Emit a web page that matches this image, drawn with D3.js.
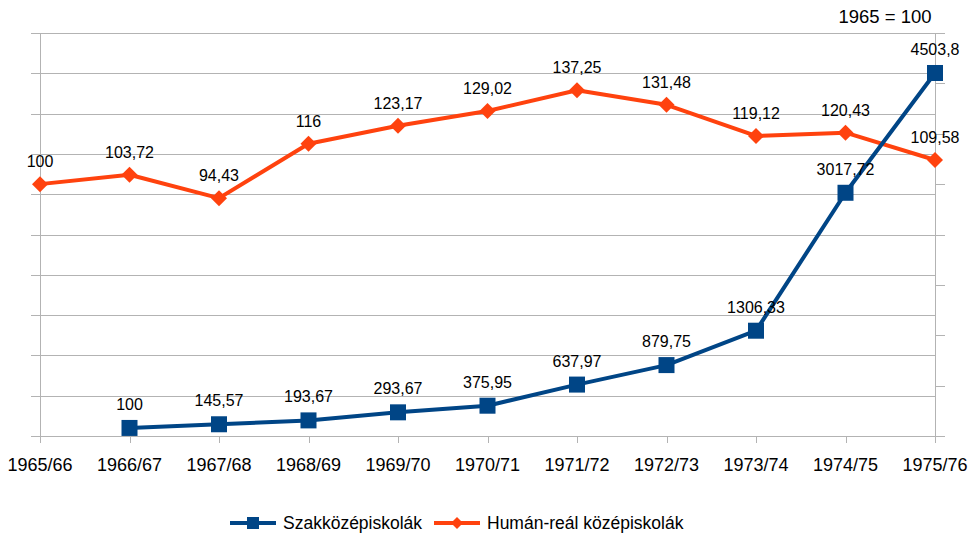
<!DOCTYPE html>
<html>
<head>
<meta charset="utf-8">
<script src="https://cdn.jsdelivr.net/npm/d3@7"></script>
<style>
    body { margin: 0; background: #fff; }
    svg { font-family: 'Liberation Sans', Arial, sans-serif; }
</style>
</head>
<body>
<svg id="chart" width="972" height="544"></svg>
<script>
// categories and series values
const years = ['1965/66', '1966/67', '1967/68', '1968/69', '1969/70', '1970/71',
    '1971/72', '1972/73', '1973/74', '1974/75', '1975/76']
const szakValues = [null, 100, 145.57, 193.67, 293.67, 375.95, 637.97, 879.75, 1306.33, 3017.72, 4503.8]
const szakLabels = [null, '100', '145,57', '193,67', '293,67', '375,95', '637,97', '879,75', '1306,33', '3017,72', '4503,8']
const humanValues = [100, 103.72, 94.43, 116, 123.17, 129.02, 137.25, 131.48, 119.12, 120.43, 109.58]
const humanLabels = ['100', '103,72', '94,43', '116', '123,17', '129,02', '137,25', '131,48', '119,12', '120,43', '109,58']
const leftTicks = [0, 16, 32, 48, 64, 80, 96, 112, 128, 144, 160]
const rightTicks = [0, 625, 1250, 1875, 2500, 3125, 3750, 4375, 5000]

const colorSzak = '#004586'
const colorHuman = '#ff420e'
const colorGrid = '#b3b3b3'

const svg = d3.select('#chart')
const plot = { left: 40, right: 935, top: 33, bottom: 436 }

const x = d3.scalePoint().domain(years).range([plot.left, plot.right])
const yLeft = d3.scaleLinear().domain([0, 160]).range([plot.bottom, plot.top])
const yRight = d3.scaleLinear().domain([0, 5000]).range([plot.bottom, plot.top])

// gridlines + left ticks
svg.append('g')
    .selectAll('line')
    .data(leftTicks)
    .enter()
    .append('line')
    .attr('x1', plot.left - 9)
    .attr('x2', plot.right)
    .attr('y1', (d) => Math.round(yLeft(d)) + 0.5)
    .attr('y2', (d) => Math.round(yLeft(d)) + 0.5)
    .attr('stroke', colorGrid)

// axis lines
svg.append('line')
    .attr('x1', plot.left + 0.5).attr('x2', plot.left + 0.5)
    .attr('y1', plot.top).attr('y2', plot.bottom + 7)
    .attr('stroke', colorGrid)
svg.append('line')
    .attr('x1', plot.right + 0.5).attr('x2', plot.right + 0.5)
    .attr('y1', plot.top).attr('y2', plot.bottom + 7)
    .attr('stroke', colorGrid)

// right ticks
svg.append('g')
    .selectAll('line')
    .data(rightTicks)
    .enter()
    .append('line')
    .attr('x1', plot.right)
    .attr('x2', plot.right + 10)
    .attr('y1', (d) => Math.round(yRight(d)) + 0.5)
    .attr('y2', (d) => Math.round(yRight(d)) + 0.5)
    .attr('stroke', colorGrid)

// x ticks and labels
const xg = svg.append('g')
xg.selectAll('line')
    .data(years)
    .enter()
    .append('line')
    .attr('x1', (d) => Math.round(x(d)) + 0.5)
    .attr('x2', (d) => Math.round(x(d)) + 0.5)
    .attr('y1', plot.bottom)
    .attr('y2', plot.bottom + 7)
    .attr('stroke', colorGrid)
xg.selectAll('text')
    .data(years)
    .enter()
    .append('text')
    .attr('x', (d) => x(d))
    .attr('y', 471)
    .attr('text-anchor', 'middle')
    .attr('font-size', 18)
    .attr('fill', '#000')
    .text((d) => d)

// lines
const szakData = years.map((d, i) => ({ cat: d, v: szakValues[i], label: szakLabels[i] }))
    .filter((d) => d.v !== null)
const humanData = years.map((d, i) => ({ cat: d, v: humanValues[i], label: humanLabels[i] }))

svg.append('path')
    .datum(humanData)
    .attr('fill', 'none')
    .attr('stroke', colorHuman)
    .attr('stroke-width', 4)
    .attr('stroke-linejoin', 'round')
    .attr('d', d3.line().x((d) => x(d.cat)).y((d) => yLeft(d.v)))

svg.append('path')
    .datum(szakData)
    .attr('fill', 'none')
    .attr('stroke', colorSzak)
    .attr('stroke-width', 4)
    .attr('stroke-linejoin', 'round')
    .attr('d', d3.line().x((d) => x(d.cat)).y((d) => yRight(d.v)))

// markers
const diamond = (cx, cy, r) => `M${cx},${cy - r}L${cx + r},${cy}L${cx},${cy + r}L${cx - r},${cy}Z`

svg.append('g')
    .selectAll('path')
    .data(humanData)
    .enter()
    .append('path')
    .attr('d', (d) => diamond(x(d.cat), yLeft(d.v), 8))
    .attr('fill', colorHuman)

svg.append('g')
    .selectAll('rect')
    .data(szakData)
    .enter()
    .append('rect')
    .attr('x', (d) => x(d.cat) - 8)
    .attr('y', (d) => yRight(d.v) - 8)
    .attr('width', 16)
    .attr('height', 16)
    .attr('fill', colorSzak)

// data labels
svg.append('g')
    .selectAll('text')
    .data(humanData)
    .enter()
    .append('text')
    .attr('x', (d) => x(d.cat))
    .attr('y', (d) => yLeft(d.v) - 17)
    .attr('text-anchor', 'middle')
    .attr('font-size', 16)
    .text((d) => d.label)

svg.append('g')
    .selectAll('text')
    .data(szakData)
    .enter()
    .append('text')
    .attr('x', (d) => x(d.cat))
    .attr('y', (d) => yRight(d.v) - 18)
    .attr('text-anchor', 'middle')
    .attr('font-size', 16)
    .text((d) => d.label)

// title note
svg.append('text')
    .attr('x', 885)
    .attr('y', 23)
    .attr('text-anchor', 'middle')
    .attr('font-size', 18.5)
    .text('1965 = 100')

// legend
const legend = [
    { name: 'Szakközépiskolák', color: colorSzak, shape: 'square', x: 230 },
    { name: 'Humán-reál középiskolák', color: colorHuman, shape: 'diamond', x: 434 }
]
const lg = svg.append('g')
legend.forEach((d) => {
    lg.append('line')
        .attr('x1', d.x).attr('x2', d.x + 46)
        .attr('y1', 523).attr('y2', 523)
        .attr('stroke', d.color)
        .attr('stroke-width', 4)
    if (d.shape === 'square') {
        lg.append('rect')
            .attr('x', d.x + 23 - 6).attr('y', 523 - 6)
            .attr('width', 12).attr('height', 12)
            .attr('fill', d.color)
    } else {
        lg.append('path')
            .attr('d', diamond(d.x + 23, 523, 6))
            .attr('fill', d.color)
    }
    lg.append('text')
        .attr('x', d.x + 53)
        .attr('y', 529)
        .attr('font-size', 17.5)
        .text(d.name)
})
</script>
</body>
</html>
